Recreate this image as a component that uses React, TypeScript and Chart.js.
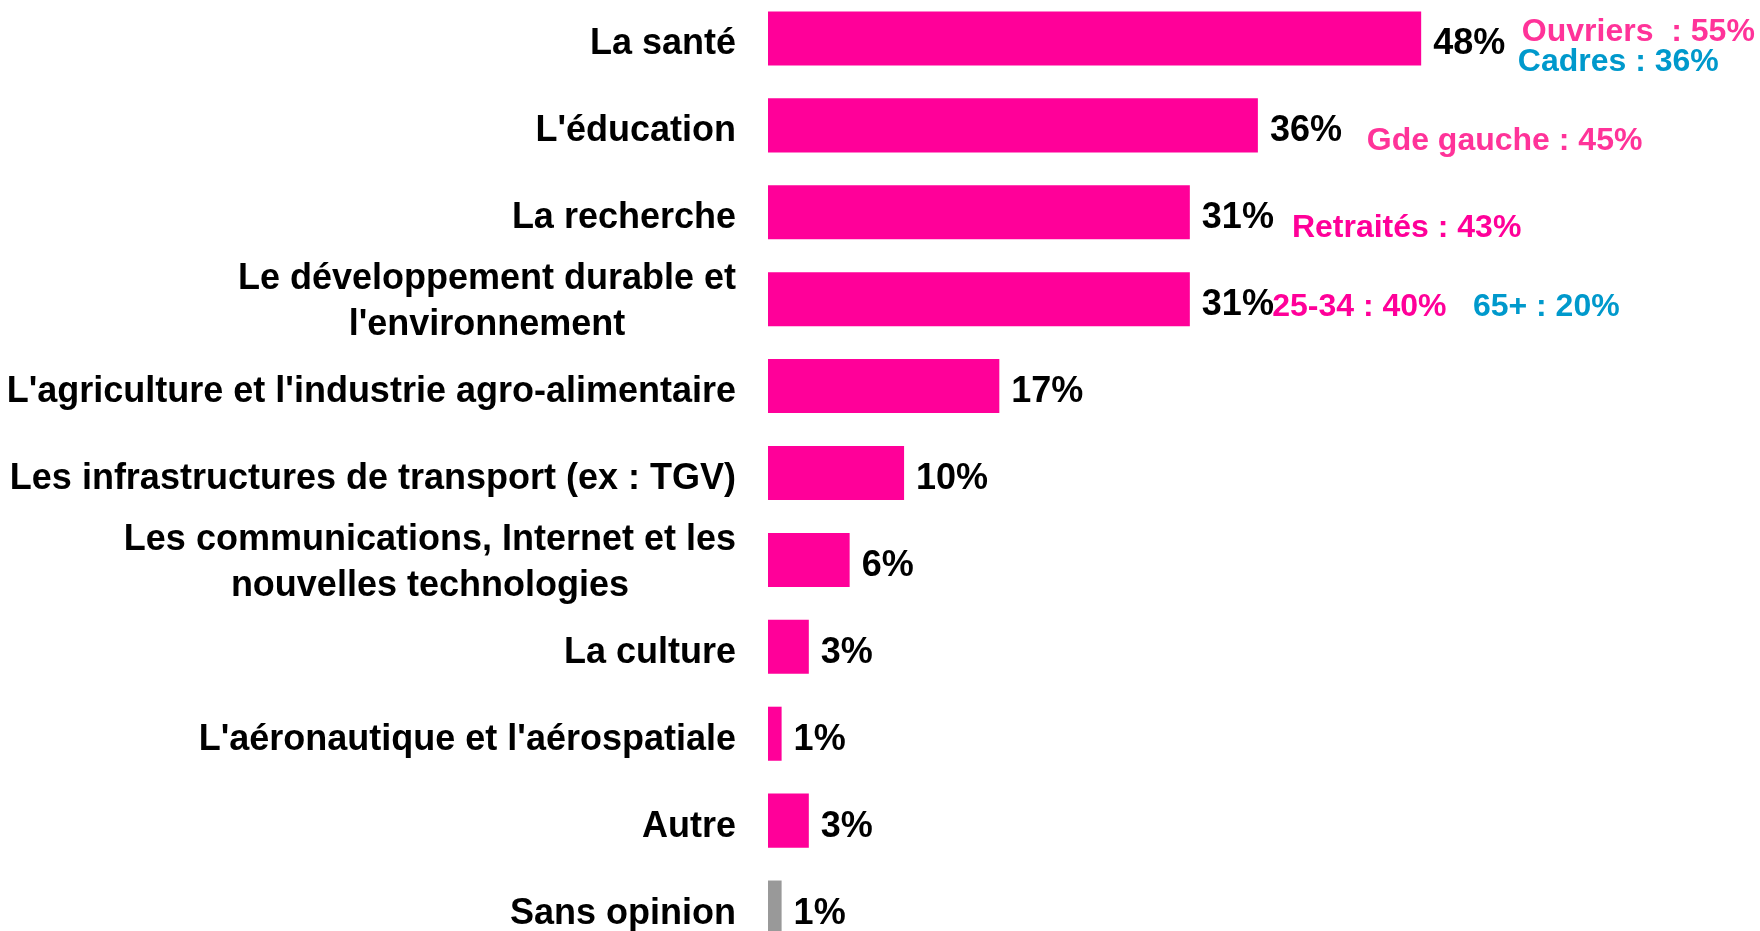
import React, { useEffect, useRef } from "react";
import { Chart, registerables } from "chart.js";

Chart.register(...registerables);

const categories: string[][] = [
  ["La santé"],
  ["L'éducation"],
  ["La recherche"],
  ["Le développement durable et", "l'environnement"],
  ["L'agriculture et l'industrie agro-alimentaire"],
  ["Les infrastructures de transport (ex : TGV)"],
  ["Les communications, Internet et les", "nouvelles technologies"],
  ["La culture"],
  ["L'aéronautique et l'aérospatiale"],
  ["Autre"],
  ["Sans opinion"],
];

const values: number[] = [48, 36, 31, 31, 17, 10, 6, 3, 1, 3, 1];

const barColors: string[] = [
  "#FF0099", "#FF0099", "#FF0099", "#FF0099", "#FF0099", "#FF0099",
  "#FF0099", "#FF0099", "#FF0099", "#FF0099", "#999999",
];

const annotRows: number[] = [0, 0, 1, 2, 3, 3];
const annotTexts: string[] = [
  "Ouvriers  : 55%",
  "Cadres : 36%",
  "Gde gauche : 45%",
  "Retraités : 43%",
  "25-34 : 40%",
  "65+ : 20%",
];
const annotColors: string[] = ["#FF3399", "#0099CC", "#FF3399", "#FF0099", "#FF0099", "#0099CC"];
const annotX: number[] = [55.4, 55.1, 44.0, 38.5, 37.05, 51.8];
const annotDy: number[] = [-9, 21, 13, 13, 5, 5];

const FONT = "'Liberation Sans', Arial, sans-serif";

export default function App() {
  const ref = useRef<HTMLCanvasElement | null>(null);

  useEffect(() => {
    if (!ref.current) return;
    const labelsPlugin = {
      id: "customText",
      afterDatasetsDraw(chart: any) {
        const ctx = chart.ctx;
        const meta = chart.getDatasetMeta(0);
        const yScale = chart.scales.y;
        const xScale = chart.scales.x;
        ctx.save();
        // category labels
        ctx.font = `bold 36px ${FONT}`;
        ctx.fillStyle = "#000000";
        ctx.textBaseline = "alphabetic";
        const capHalf = 13;
        const rightEdge = chart.chartArea.left - 32;
        const lh = 46;
        categories.forEach((lines, i) => {
          const y = yScale.getPixelForValue(i);
          const widths = lines.map((l) => ctx.measureText(l).width);
          const maxW = Math.max(...widths);
          const blockCenter = rightEdge - maxW / 2;
          const extra = lines.length === 1 ? 3 : 0;
          ctx.textAlign = "center";
          lines.forEach((l, j) => {
            const ly = y + (j - (lines.length - 1) / 2) * lh + capHalf + extra;
            ctx.fillText(l, blockCenter, ly);
          });
        });
        // value labels
        ctx.textAlign = "left";
        meta.data.forEach((bar: any, i: number) => {
          ctx.fillText(`${values[i]}%`, bar.x + 12, bar.y + capHalf + 3);
        });
        // annotations
        ctx.font = `bold 32px ${FONT}`;
        annotTexts.forEach((t, i) => {
          ctx.fillStyle = annotColors[i];
          const x = xScale.getPixelForValue(annotX[i]);
          const y = yScale.getPixelForValue(annotRows[i]) + annotDy[i] + 11.5;
          ctx.fillText(t, x, y);
        });
        ctx.restore();
      },
    };

    const chart = new Chart(ref.current, {
      type: "bar",
      data: {
        labels: categories.map((c) => c.join(" ")),
        datasets: [
          {
            data: values,
            backgroundColor: barColors,
            borderWidth: 0,
            categoryPercentage: 1,
            barPercentage: 0.622,
          },
        ],
      },
      options: {
        indexAxis: "y",
        responsive: false,
        animation: false,
        layout: { padding: 0 },
        plugins: {
          legend: { display: false },
          tooltip: { enabled: false },
        },
        scales: {
          x: {
            display: false,
            min: 0,
            max: 72.9,
          },
          y: {
            display: true,
            grid: { display: false, drawTicks: false },
            border: { display: false },
            ticks: { display: false },
            afterFit: (scale: any) => {
              scale.width = 768;
            },
          },
        },
      },
      plugins: [labelsPlugin],
    });
    return () => chart.destroy();
  }, []);

  return (
    <div
      style={{
        position: "fixed",
        left: 0,
        top: 0,
        width: 1760,
        height: 931,
        overflow: "hidden",
        background: "#ffffff",
      }}
    >
      <canvas
        ref={ref}
        width={1760}
        height={956}
        style={{ position: "absolute", left: 0, top: -5, width: 1760, height: 956 }}
      />
    </div>
  );
}
